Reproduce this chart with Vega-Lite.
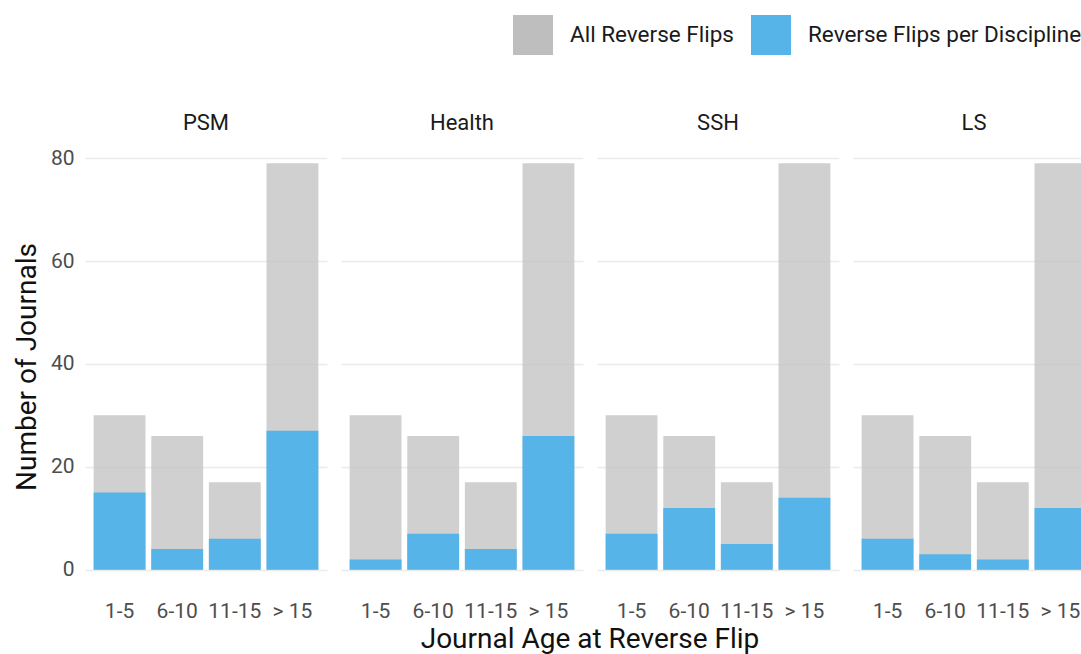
{
  "$schema": "https://vega.github.io/schema/vega-lite/v6.json",
  "padding": {"left": 13, "top": 15, "right": 0, "bottom": 0},
  "background": "white",
  "data": {"values": [
    {"discipline": "PSM", "age": "1-5", "series": "All Reverse Flips", "value": 30},
    {"discipline": "PSM", "age": "6-10", "series": "All Reverse Flips", "value": 26},
    {"discipline": "PSM", "age": "11-15", "series": "All Reverse Flips", "value": 17},
    {"discipline": "PSM", "age": "> 15", "series": "All Reverse Flips", "value": 79},
    {"discipline": "Health", "age": "1-5", "series": "All Reverse Flips", "value": 30},
    {"discipline": "Health", "age": "6-10", "series": "All Reverse Flips", "value": 26},
    {"discipline": "Health", "age": "11-15", "series": "All Reverse Flips", "value": 17},
    {"discipline": "Health", "age": "> 15", "series": "All Reverse Flips", "value": 79},
    {"discipline": "SSH", "age": "1-5", "series": "All Reverse Flips", "value": 30},
    {"discipline": "SSH", "age": "6-10", "series": "All Reverse Flips", "value": 26},
    {"discipline": "SSH", "age": "11-15", "series": "All Reverse Flips", "value": 17},
    {"discipline": "SSH", "age": "> 15", "series": "All Reverse Flips", "value": 79},
    {"discipline": "LS", "age": "1-5", "series": "All Reverse Flips", "value": 30},
    {"discipline": "LS", "age": "6-10", "series": "All Reverse Flips", "value": 26},
    {"discipline": "LS", "age": "11-15", "series": "All Reverse Flips", "value": 17},
    {"discipline": "LS", "age": "> 15", "series": "All Reverse Flips", "value": 79},
    {"discipline": "PSM", "age": "1-5", "series": "Reverse Flips per Discipline", "value": 15},
    {"discipline": "PSM", "age": "6-10", "series": "Reverse Flips per Discipline", "value": 4},
    {"discipline": "PSM", "age": "11-15", "series": "Reverse Flips per Discipline", "value": 6},
    {"discipline": "PSM", "age": "> 15", "series": "Reverse Flips per Discipline", "value": 27},
    {"discipline": "Health", "age": "1-5", "series": "Reverse Flips per Discipline", "value": 2},
    {"discipline": "Health", "age": "6-10", "series": "Reverse Flips per Discipline", "value": 7},
    {"discipline": "Health", "age": "11-15", "series": "Reverse Flips per Discipline", "value": 4},
    {"discipline": "Health", "age": "> 15", "series": "Reverse Flips per Discipline", "value": 26},
    {"discipline": "SSH", "age": "1-5", "series": "Reverse Flips per Discipline", "value": 7},
    {"discipline": "SSH", "age": "6-10", "series": "Reverse Flips per Discipline", "value": 12},
    {"discipline": "SSH", "age": "11-15", "series": "Reverse Flips per Discipline", "value": 5},
    {"discipline": "SSH", "age": "> 15", "series": "Reverse Flips per Discipline", "value": 14},
    {"discipline": "LS", "age": "1-5", "series": "Reverse Flips per Discipline", "value": 6},
    {"discipline": "LS", "age": "6-10", "series": "Reverse Flips per Discipline", "value": 3},
    {"discipline": "LS", "age": "11-15", "series": "Reverse Flips per Discipline", "value": 2},
    {"discipline": "LS", "age": "> 15", "series": "Reverse Flips per Discipline", "value": 12}
  ]},
  "facet": {
    "column": {
      "field": "discipline", "type": "nominal",
      "sort": ["PSM", "Health", "SSH", "LS"],
      "header": {
        "title": "Journal Age at Reverse Flip",
        "titleOrient": "bottom",
        "labelOrient": "top",
        "titleFont": "Roboto", "titleFontSize": 28, "titleFontWeight": "normal", "titleColor": "#111111",
        "titlePadding": -5,
        "labelFont": "Roboto", "labelFontSize": 22, "labelColor": "#1a1a1a", "labelPadding": 8
      }
    }
  },
  "spacing": 14,
  "spec": {
    "width": 242,
    "height": 447,
    "encoding": {
      "x": {
        "field": "age", "type": "ordinal",
        "sort": ["1-5", "6-10", "11-15", "> 15"],
        "scale": {"paddingInner": 0.1, "paddingOuter": 0.15},
        "axis": {"title": null, "labelAngle": 0, "labelPadding": 10, "ticks": false, "domain": false, "grid": false,
                 "labelFont": "Roboto", "labelFontSize": 21, "labelColor": "#4d4d4d", "labelOverlap": false}
      },
      "y": {
        "field": "value", "type": "quantitative",
        "scale": {"domain": [-3.95, 82.95], "nice": false, "zero": false},
        "axis": {"title": "Number of Journals", "values": [0, 20, 40, 60, 80], "ticks": false, "domain": false,
                 "grid": true, "gridColor": "#ebebeb", "gridWidth": 1.3,
                 "labelFont": "Roboto", "labelFontSize": 21, "labelColor": "#4d4d4d", "labelPadding": 11,
                 "titleFont": "Roboto", "titleFontSize": 28, "titleFontWeight": "normal", "titleColor": "#111111", "titlePadding": 9}
      },
      "color": {
        "field": "series", "type": "nominal",
        "scale": {"domain": ["All Reverse Flips", "Reverse Flips per Discipline"], "range": ["#bebebe", "#56b4e9"]},
        "legend": {
          "title": null, "orient": "none", "direction": "horizontal",
          "legendX": 428, "legendY": -128,
          "symbolType": "square", "symbolSize": 1600, "symbolOpacity": 1, "symbolStrokeWidth": 0,
          "labelFont": "Roboto", "labelFontSize": 22.5, "labelColor": "#1a1a1a", "labelOffset": 17, "labelLimit": 400,
          "columnPadding": 17
        }
      }
    },
    "layer": [
      {"transform": [{"filter": "datum.series == 'All Reverse Flips'"}], "mark": {"type": "bar", "opacity": 0.72}},
      {"transform": [{"filter": "datum.series == 'Reverse Flips per Discipline'"}], "mark": {"type": "bar", "opacity": 1}}
    ]
  },
  "config": {"view": {"stroke": null}, "font": "Roboto"}
}
